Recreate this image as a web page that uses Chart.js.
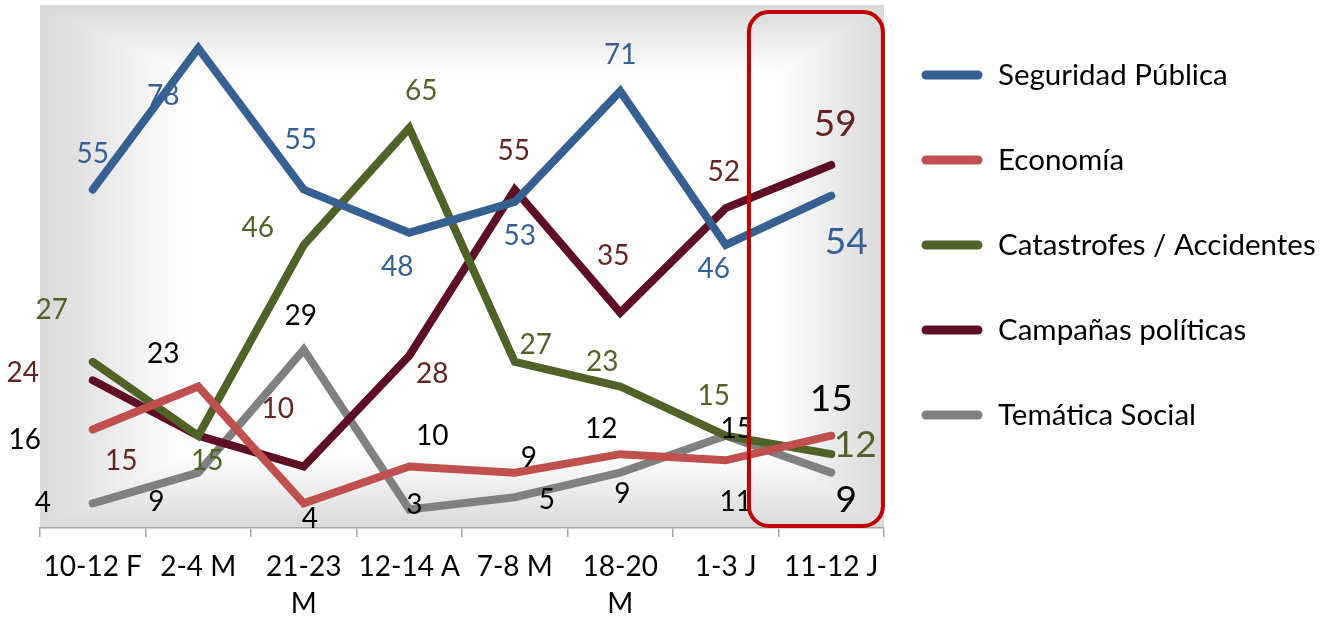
<!DOCTYPE html>
<html>
<head>
<meta charset="utf-8">
<script src="https://cdn.jsdelivr.net/npm/chart.js@4.4.1/dist/chart.umd.min.js"></script>
<style>
  html, body { margin: 0; padding: 0; background: #fff; }
  #wrap { width: 1329px; height: 620px; }
</style>
</head>
<body>
<div id="wrap"><canvas id="graph" width="1329" height="620"></canvas></div>
<script>
// Data
const categories = ['10-12 F', '2-4 M', ['21-23', 'M'], '12-14 A', '7-8 M', ['18-20', 'M'], '1-3 J', '11-12 J'];
const seguridad  = [55, 78, 55, 48, 53, 71, 46, 54];
const economia   = [16, 23, 4, 10, 9, 12, 11, 15];
const catastrofes = [27, 15, 46, 65, 27, 23, 15, 12];
const campanas   = [24, 15, 10, 28, 55, 35, 52, 59];
const tematica   = [4, 9, 29, 3, 5, 9, 15, 9];

const FONT = 'Lato';

// label offsets (px from the point) and label colors per series
const labelStyle = [
    { color: '#376092', off: [[0,-36],[-35,48],[-3,-50],[-12,34],[5,34],[0,-36],[-12,24],[15,46]] },
    { color: '#000000', off: [[-68,10],[-35,-33],[6,16],[23,-31],[14,-15],[-19,-25],[10,42],[0,-37]] },
    { color: '#4F6228', off: [[-41,-52],[9,25],[-46,-17],[12,-37],[21,-17],[-18,-25],[-12,-40],[24,-9]] },
    { color: '#632523', off: [[-70,-7],[-77,25],[-26,-58],[23,18],[-1,-39],[-7,-57],[-2,-36],[4,-41]] },
    { color: '#000000', off: [[-50,0],[-42,29],[-3,-34],[5,-5],[32,3],[2,21],[11,-7],[15,27]] }
];

// plot area background: white centre fading to grey at the edges
const bgPlugin = {
    id: 'bg',
    beforeDraw(chart) {
        const { ctx, chartArea: a } = chart;
        ctx.save();
        ctx.fillStyle = '#ffffff';
        ctx.fillRect(a.left, a.top, a.right - a.left, a.bottom - a.top);
        ctx.globalCompositeOperation = 'darken';
        const edge = (x0, y0, x1, y1) => {
            const g = ctx.createLinearGradient(x0, y0, x1, y1);
            g.addColorStop(0, '#d9d9d9');
            g.addColorStop(1, '#ffffff');
            return g;
        };
        ctx.fillStyle = edge(a.left, 0, a.left + 150, 0);
        ctx.fillRect(a.left, a.top, 150, a.bottom - a.top);
        ctx.fillStyle = edge(a.right, 0, a.right - 110, 0);
        ctx.fillRect(a.right - 110, a.top, 110, a.bottom - a.top);
        ctx.fillStyle = edge(0, a.top, 0, a.top + 70);
        ctx.fillRect(a.left, a.top, a.right - a.left, 70);
        ctx.fillStyle = edge(0, a.bottom, 0, a.bottom - 75);
        ctx.fillRect(a.left, a.bottom - 75, a.right - a.left, 75);
        ctx.restore();
    }
};

// value labels next to each point
const labelPlugin = {
    id: 'valueLabels',
    afterDatasetsDraw(chart) {
        const ctx = chart.ctx;
        ctx.save();
        ctx.textAlign = 'center';
        ctx.textBaseline = 'middle';
        chart.data.datasets.forEach((ds, i) => {
            const meta = chart.getDatasetMeta(i);
            const st = labelStyle[i];
            meta.data.forEach((pt, j) => {
                const last = j === ds.data.length - 1;
                ctx.font = (last ? 37 : 28) + 'px ' + FONT;
                ctx.fillStyle = st.color;
                ctx.fillText(ds.data[j], pt.x + st.off[j][0], pt.y + st.off[j][1]);
            });
        });
        ctx.restore();
    }
};

// red rounded box around the last category + legend on the right
const overlayPlugin = {
    id: 'overlay',
    afterDraw(chart) {
        const { ctx, chartArea: a, scales: { x } } = chart;
        const n = categories.length;
        const cx = x.getPixelForValue(n - 1);
        const w = x.getPixelForValue(1) - x.getPixelForValue(0);
        ctx.save();
        ctx.strokeStyle = '#C00000';
        ctx.lineWidth = 4;
        ctx.beginPath();
        ctx.roundRect(cx - w * 0.78, a.top + 7, w * 1.27, a.bottom - a.top - 9, 20);
        ctx.stroke();

        // legend
        ctx.font = '29.5px ' + FONT;
        ctx.textAlign = 'left';
        ctx.textBaseline = 'middle';
        ctx.lineCap = 'round';
        chart.data.datasets.forEach((ds, i) => {
            const y = 75 + i * 85;
            ctx.strokeStyle = ds.borderColor;
            ctx.lineWidth = 9;
            ctx.beginPath();
            ctx.moveTo(926, y);
            ctx.lineTo(978, y);
            ctx.stroke();
            ctx.fillStyle = '#000';
            ctx.fillText(ds.label, 998, y);
        });
        ctx.restore();
    }
};

const line = (label, data, color) => ({
    label, data,
    borderColor: color,
    backgroundColor: color,
    borderWidth: 8,
    borderCapStyle: 'round',
    borderJoinStyle: 'miter',
    pointRadius: 0,
    tension: 0,
    fill: false
});

const ctx = document.getElementById('graph').getContext('2d');
const chart = new Chart(ctx, {
    type: 'line',
    data: {
        labels: categories,
        datasets: [
            line('Seguridad Pública', seguridad, '#376092'),
            line('Economía', economia, '#C0504D'),
            line('Catastrofes / Accidentes', catastrofes, '#4F6228'),
            line('Campañas políticas', campanas, '#5F0F24'),
            line('Temática Social', tematica, '#808080')
        ]
    },
    options: {
        responsive: false,
        animation: false,
        layout: { padding: { left: 40, right: 445, top: 5, bottom: 0 } },
        scales: {
            x: {
                offset: true,
                grid: { offset: true, drawOnChartArea: false, tickLength: 9, color: '#a6a6a6', lineWidth: 1.5 },
                border: { color: '#a6a6a6', width: 1.5 },
                ticks: { color: '#000', font: { family: FONT, size: 28, lineHeight: 1.3 }, padding: 12, maxRotation: 0, autoSkip: false },
                afterFit(scale) { scale.height = 92; }
            },
            y: { display: false, min: 0, max: 85 }
        },
        plugins: {
            legend: { display: false },
            tooltip: { enabled: false }
        }
    },
    plugins: [bgPlugin, labelPlugin, overlayPlugin]
});
</script>
</body>
</html>
